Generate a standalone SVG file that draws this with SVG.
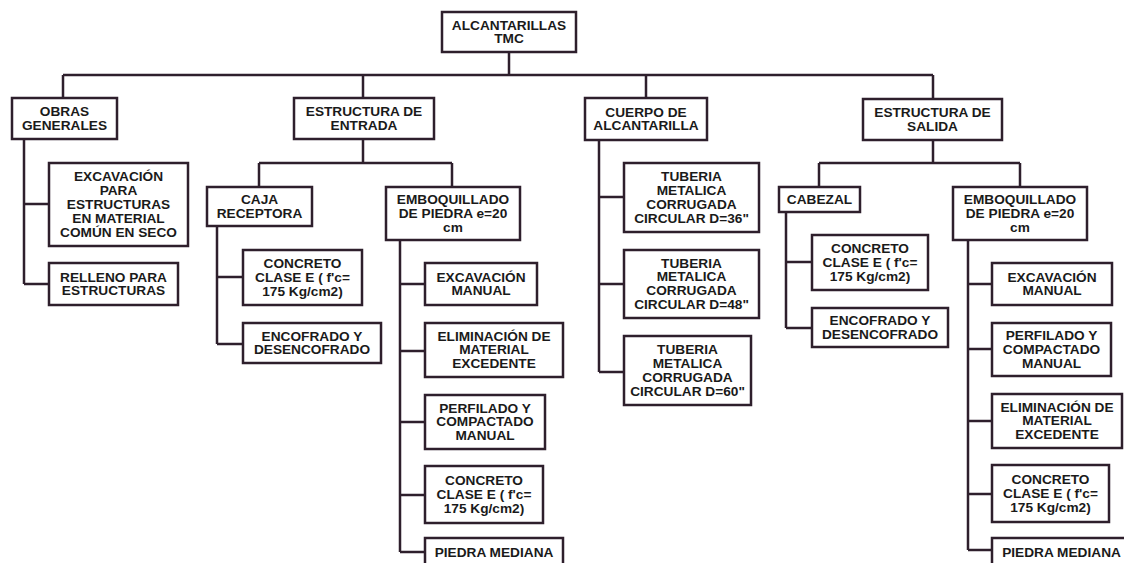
<svg xmlns="http://www.w3.org/2000/svg" width="1124" height="563" viewBox="0 0 1124 563">
  <style>
    .box { fill: #ffffff; stroke: #2e1f2c; stroke-width: 2.5; }
    .wire { fill: none; stroke: #2e1f2c; stroke-width: 2.5; stroke-linejoin: miter; }
    .t { font-family: "Liberation Sans", Arial, sans-serif; font-weight: bold; font-size: 12px; fill: #1a1a1a; text-anchor: middle; }
  </style>
  <rect width="1124" height="563" fill="#ffffff"/>

  <!-- tree wiring -->
  <g id="connectors" class="wire">
    <path d="M509 52 V75 M63 75 H933 M63 75 V98 M363 75 V98 M646 75 V98 M933 75 V99"/>
    <!-- obras generales -->
    <path d="M24 139 V284 M24 204 H49 M24 284 H49"/>
    <!-- estructura de entrada -->
    <path d="M363 139 V163 M259 163 H452 M259 163 V187 M452 163 V187"/>
    <path d="M217 226 V344 M217 277 H243 M217 344 H243"/>
    <path d="M400 240 V552 M400 284 H425 M400 351 H425 M400 422 H425 M400 495 H425 M400 552 H425"/>
    <!-- cuerpo de alcantarilla -->
    <path d="M599 140 V372 M599 197 H624 M599 284 H624 M599 372 H624"/>
    <!-- estructura de salida -->
    <path d="M933 140 V163 M819 163 H1020 M819 163 V187 M1020 163 V187"/>
    <path d="M786 212 V328 M786 262 H812 M786 328 H812"/>
    <path d="M968 240 V550 M968 284 H992 M968 349 H992 M968 421 H992 M968 494 H992 M968 550 H992"/>
  </g>

  <g id="n-root">
    <rect class="box" x="442" y="12" width="134" height="40"/>
    <text class="t" transform="translate(509,29.5) scale(1.14,1)"><tspan x="0" y="0">ALCANTARILLAS</tspan><tspan x="0" y="14">TMC</tspan></text>
  </g>

  <g id="n-obras">
    <rect class="box" x="12" y="98" width="105" height="41"/>
    <text class="t" transform="translate(64.5,116) scale(1.14,1)"><tspan x="0" y="0">OBRAS</tspan><tspan x="0" y="14">GENERALES</tspan></text>
  </g>
  <g id="n-entrada">
    <rect class="box" x="294" y="98" width="140" height="41"/>
    <text class="t" transform="translate(364,116) scale(1.14,1)"><tspan x="0" y="0">ESTRUCTURA DE</tspan><tspan x="0" y="14">ENTRADA</tspan></text>
  </g>
  <g id="n-cuerpo">
    <rect class="box" x="585" y="98" width="122" height="42"/>
    <text class="t" transform="translate(646,116.5) scale(1.14,1)"><tspan x="0" y="0">CUERPO DE</tspan><tspan x="0" y="14">ALCANTARILLA</tspan></text>
  </g>
  <g id="n-salida">
    <rect class="box" x="863" y="99" width="139" height="41"/>
    <text class="t" transform="translate(932.5,117) scale(1.14,1)"><tspan x="0" y="0">ESTRUCTURA DE</tspan><tspan x="0" y="14">SALIDA</tspan></text>
  </g>

  <!-- obras generales -->
  <g id="n-excavacion-estructuras">
    <rect class="box" x="49" y="163" width="139" height="83"/>
    <text class="t" transform="translate(118.5,181) scale(1.14,1)"><tspan x="0" y="0">EXCAVACIÓN</tspan><tspan x="0" y="14">PARA</tspan><tspan x="0" y="28">ESTRUCTURAS</tspan><tspan x="0" y="42">EN MATERIAL</tspan><tspan x="0" y="56">COMÚN EN SECO</tspan></text>
  </g>
  <g id="n-relleno">
    <rect class="box" x="49" y="263" width="129" height="42"/>
    <text class="t" transform="translate(113.5,281.5) scale(1.14,1)"><tspan x="0" y="0">RELLENO PARA</tspan><tspan x="0" y="14">ESTRUCTURAS</tspan></text>
  </g>

  <!-- estructura de entrada -->
  <g id="n-caja">
    <rect class="box" x="207" y="187" width="105" height="39"/>
    <text class="t" transform="translate(259.5,204) scale(1.14,1)"><tspan x="0" y="0">CAJA</tspan><tspan x="0" y="14">RECEPTORA</tspan></text>
  </g>
  <g id="n-emboq-entrada">
    <rect class="box" x="386" y="187" width="134" height="53"/>
    <text class="t" transform="translate(453,204) scale(1.14,1)"><tspan x="0" y="0">EMBOQUILLADO</tspan><tspan x="0" y="14">DE PIEDRA e=20</tspan><tspan x="0" y="28">cm</tspan></text>
  </g>
  <g id="n-concreto-caja">
    <rect class="box" x="243" y="250" width="119" height="55"/>
    <text class="t" transform="translate(302.5,268) scale(1.14,1)"><tspan x="0" y="0">CONCRETO</tspan><tspan x="0" y="14">CLASE E ( f'c=</tspan><tspan x="0" y="28">175 Kg/cm2)</tspan></text>
  </g>
  <g id="n-encofrado-caja">
    <rect class="box" x="243" y="323" width="138" height="40"/>
    <text class="t" transform="translate(312,340.5) scale(1.14,1)"><tspan x="0" y="0">ENCOFRADO Y</tspan><tspan x="0" y="14">DESENCOFRADO</tspan></text>
  </g>
  <g id="n-excavacion-entrada">
    <rect class="box" x="425" y="263" width="112" height="42"/>
    <text class="t" transform="translate(481,281.5) scale(1.14,1)"><tspan x="0" y="0">EXCAVACIÓN</tspan><tspan x="0" y="14">MANUAL</tspan></text>
  </g>
  <g id="n-eliminacion-entrada">
    <rect class="box" x="425" y="323" width="138" height="54"/>
    <text class="t" transform="translate(494,340.5) scale(1.14,1)"><tspan x="0" y="0">ELIMINACIÓN DE</tspan><tspan x="0" y="14">MATERIAL</tspan><tspan x="0" y="28">EXCEDENTE</tspan></text>
  </g>
  <g id="n-perfilado-entrada">
    <rect class="box" x="425" y="395" width="120" height="54"/>
    <text class="t" transform="translate(485,412.5) scale(1.14,1)"><tspan x="0" y="0">PERFILADO Y</tspan><tspan x="0" y="14">COMPACTADO</tspan><tspan x="0" y="28">MANUAL</tspan></text>
  </g>
  <g id="n-concreto-entrada">
    <rect class="box" x="425" y="466" width="118" height="57"/>
    <text class="t" transform="translate(484,485) scale(1.14,1)"><tspan x="0" y="0">CONCRETO</tspan><tspan x="0" y="14">CLASE E ( f'c=</tspan><tspan x="0" y="28">175 Kg/cm2)</tspan></text>
  </g>
  <g id="n-piedra-entrada">
    <rect class="box" x="425" y="538" width="138" height="40"/>
    <text class="t" transform="translate(494,556.5) scale(1.14,1)"><tspan x="0" y="0">PIEDRA MEDIANA</tspan></text>
  </g>

  <!-- cuerpo de alcantarilla -->
  <g id="n-tuberia-36">
    <rect class="box" x="624" y="163" width="135" height="69"/>
    <text class="t" transform="translate(691.5,181) scale(1.14,1)"><tspan x="0" y="0">TUBERIA</tspan><tspan x="0" y="14">METALICA</tspan><tspan x="0" y="28">CORRUGADA</tspan><tspan x="0" y="42">CIRCULAR D=36"</tspan></text>
  </g>
  <g id="n-tuberia-48">
    <rect class="box" x="624" y="250" width="135" height="68"/>
    <text class="t" transform="translate(691.5,267.5) scale(1.14,1)"><tspan x="0" y="0">TUBERIA</tspan><tspan x="0" y="14">METALICA</tspan><tspan x="0" y="28">CORRUGADA</tspan><tspan x="0" y="42">CIRCULAR D=48"</tspan></text>
  </g>
  <g id="n-tuberia-60">
    <rect class="box" x="624" y="336" width="127" height="69"/>
    <text class="t" transform="translate(687.5,354) scale(1.14,1)"><tspan x="0" y="0">TUBERIA</tspan><tspan x="0" y="14">METALICA</tspan><tspan x="0" y="28">CORRUGADA</tspan><tspan x="0" y="42">CIRCULAR D=60"</tspan></text>
  </g>

  <!-- estructura de salida -->
  <g id="n-cabezal">
    <rect class="box" x="779" y="187" width="81" height="25"/>
    <text class="t" transform="translate(819.5,204) scale(1.14,1)"><tspan x="0" y="0">CABEZAL</tspan></text>
  </g>
  <g id="n-emboq-salida">
    <rect class="box" x="953" y="187" width="134" height="53"/>
    <text class="t" transform="translate(1020,204) scale(1.14,1)"><tspan x="0" y="0">EMBOQUILLADO</tspan><tspan x="0" y="14">DE PIEDRA e=20</tspan><tspan x="0" y="28">cm</tspan></text>
  </g>
  <g id="n-concreto-cabezal">
    <rect class="box" x="812" y="235" width="116" height="55"/>
    <text class="t" transform="translate(870,253) scale(1.14,1)"><tspan x="0" y="0">CONCRETO</tspan><tspan x="0" y="14">CLASE E ( f'c=</tspan><tspan x="0" y="28">175 Kg/cm2)</tspan></text>
  </g>
  <g id="n-encofrado-cabezal">
    <rect class="box" x="812" y="308" width="136" height="39"/>
    <text class="t" transform="translate(880,325) scale(1.14,1)"><tspan x="0" y="0">ENCOFRADO Y</tspan><tspan x="0" y="14">DESENCOFRADO</tspan></text>
  </g>
  <g id="n-excavacion-salida">
    <rect class="box" x="992" y="263" width="120" height="42"/>
    <text class="t" transform="translate(1052,281.5) scale(1.14,1)"><tspan x="0" y="0">EXCAVACIÓN</tspan><tspan x="0" y="14">MANUAL</tspan></text>
  </g>
  <g id="n-perfilado-salida">
    <rect class="box" x="992" y="323" width="119" height="53"/>
    <text class="t" transform="translate(1051.5,340) scale(1.14,1)"><tspan x="0" y="0">PERFILADO Y</tspan><tspan x="0" y="14">COMPACTADO</tspan><tspan x="0" y="28">MANUAL</tspan></text>
  </g>
  <g id="n-eliminacion-salida">
    <rect class="box" x="992" y="394" width="130" height="54"/>
    <text class="t" transform="translate(1057,411.5) scale(1.14,1)"><tspan x="0" y="0">ELIMINACIÓN DE</tspan><tspan x="0" y="14">MATERIAL</tspan><tspan x="0" y="28">EXCEDENTE</tspan></text>
  </g>
  <g id="n-concreto-salida">
    <rect class="box" x="992" y="465" width="117" height="57"/>
    <text class="t" transform="translate(1050.5,484) scale(1.14,1)"><tspan x="0" y="0">CONCRETO</tspan><tspan x="0" y="14">CLASE E ( f'c=</tspan><tspan x="0" y="28">175 Kg/cm2)</tspan></text>
  </g>
  <g id="n-piedra-salida">
    <rect class="box" x="992" y="538" width="140" height="40"/>
    <text class="t" transform="translate(1061.5,556.5) scale(1.14,1)"><tspan x="0" y="0">PIEDRA MEDIANA</tspan></text>
  </g>
</svg>
